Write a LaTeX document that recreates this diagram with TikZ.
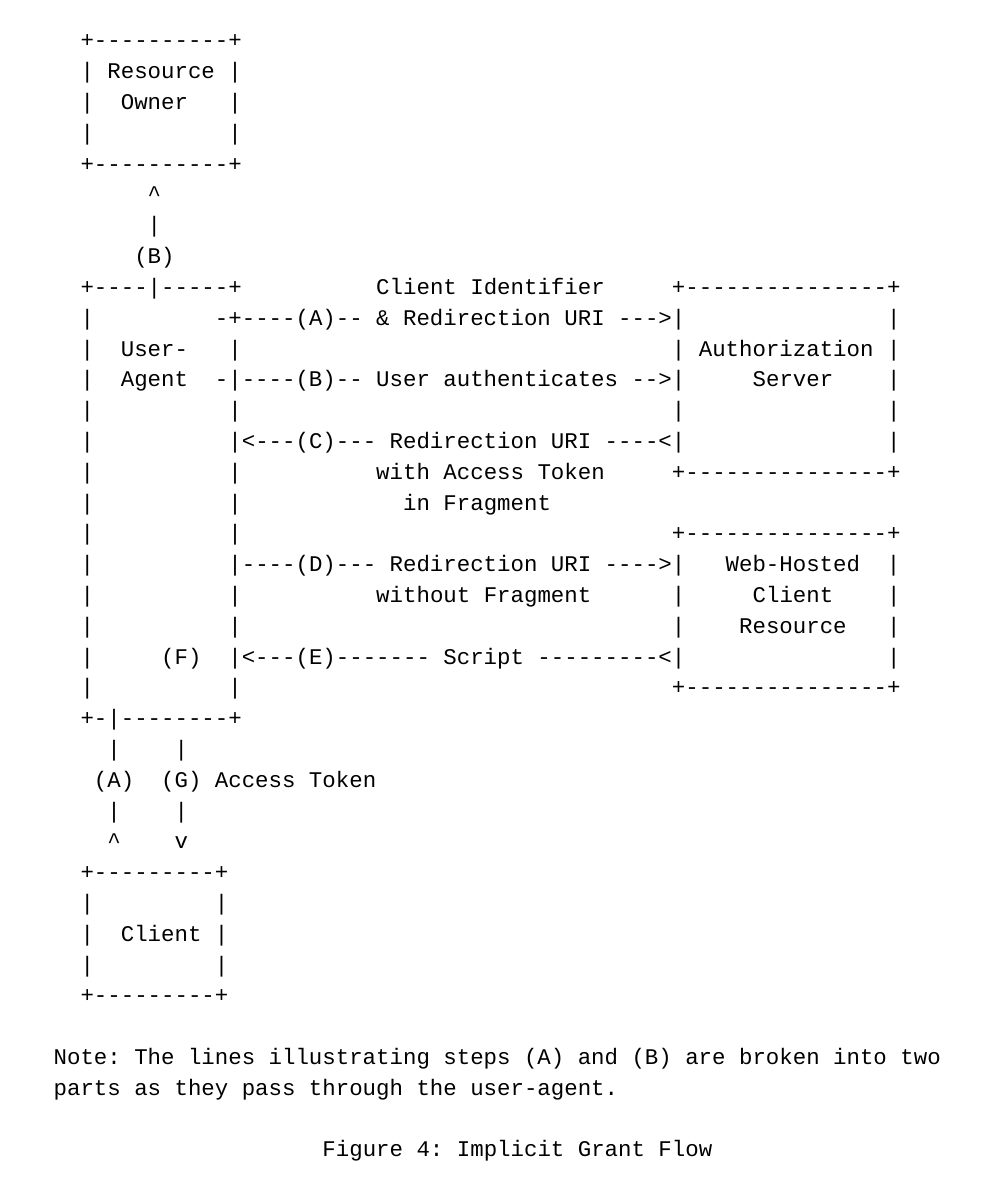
\documentclass[tikz,border=0pt]{standalone}
\usepackage{fontspec}
\setmonofont{Liberation Mono}
\newlength\cw
\newcommand\SP[1]{\hspace*{#1\cw}}
\tikzset{ln/.style={anchor=base west,inner sep=0pt,font=\fontsize{22.4pt}{24pt}\ttfamily}}
\begin{document}
\settowidth\cw{\fontsize{22.4pt}{24pt}\ttfamily x}
\begin{tikzpicture}[x=1pt,y=-1pt]
\useasboundingbox (0,0) rectangle (994,1190);
\newcommand\row[2]{\node[ln] (r#1) at (13.1,{48+#1*30.8}) {#2};}
\row{0}{\SP{5}+----------+}
\row{1}{\SP{5}| Resource |}
\row{2}{\SP{5}|\SP{2}Owner\SP{3}|}
\row{3}{\SP{5}|\SP{10}|}
\row{4}{\SP{5}+----------+}
\row{5}{\SP{10}\textasciicircum}
\row{6}{\SP{10}|}
\row{7}{\SP{9}(B)}
\row{8}{\SP{5}+----|-----+\SP{10}Client Identifier\SP{5}+---------------+}
\row{9}{\SP{5}|\SP{9}-+----(A)-- \& Redirection URI --->|\SP{15}|}
\row{10}{\SP{5}|\SP{2}User-\SP{3}|\SP{32}| Authorization |}
\row{11}{\SP{5}|\SP{2}Agent\SP{2}-|----(B)-- User authenticates -->|\SP{5}Server\SP{4}|}
\row{12}{\SP{5}|\SP{10}|\SP{32}|\SP{15}|}
\row{13}{\SP{5}|\SP{10}|<---(C)--- Redirection URI ----<|\SP{15}|}
\row{14}{\SP{5}|\SP{10}|\SP{10}with Access Token\SP{5}+---------------+}
\row{15}{\SP{5}|\SP{10}|\SP{12}in Fragment}
\row{16}{\SP{5}|\SP{10}|\SP{32}+---------------+}
\row{17}{\SP{5}|\SP{10}|----(D)--- Redirection URI ---->|\SP{3}Web-Hosted\SP{2}|}
\row{18}{\SP{5}|\SP{10}|\SP{10}without Fragment\SP{6}|\SP{5}Client\SP{4}|}
\row{19}{\SP{5}|\SP{10}|\SP{32}|\SP{4}Resource\SP{3}|}
\row{20}{\SP{5}|\SP{5}(F)\SP{2}|<---(E)------- Script ---------<|\SP{15}|}
\row{21}{\SP{5}|\SP{10}|\SP{32}+---------------+}
\row{22}{\SP{5}+-|--------+}
\row{23}{\SP{7}|\SP{4}|}
\row{24}{\SP{6}(A)\SP{2}(G) Access Token}
\row{25}{\SP{7}|\SP{4}|}
\row{26}{\SP{7}\textasciicircum\SP{4}v}
\row{27}{\SP{5}+---------+}
\row{28}{\SP{5}|\SP{9}|}
\row{29}{\SP{5}|\SP{2}Client |}
\row{30}{\SP{5}|\SP{9}|}
\row{31}{\SP{5}+---------+}
\row{33}{\SP{3}Note: The lines illustrating steps (A) and (B) are broken into two}
\row{34}{\SP{3}parts as they pass through the user-agent.}
\row{36}{\SP{23}Figure 4: Implicit Grant Flow}
\end{tikzpicture}
\end{document}
